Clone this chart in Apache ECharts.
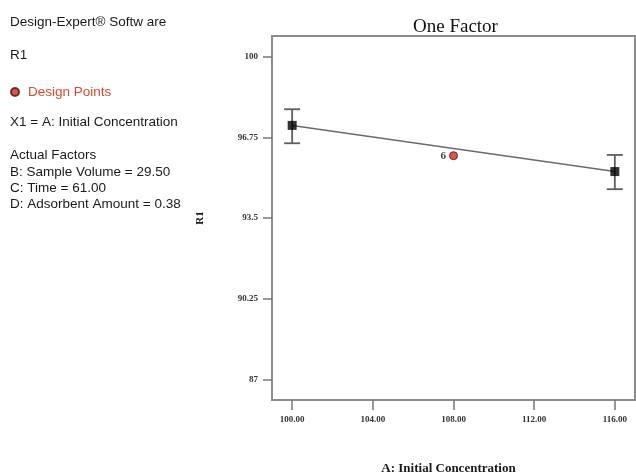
<!DOCTYPE html>
<html>
<head>
<meta charset="utf-8">
<script src="https://cdn.jsdelivr.net/npm/echarts@6/dist/echarts.min.js"></script>
<style>
  html, body { margin: 0; padding: 0; background: #fff; }
  #main { width: 636px; height: 475px; }
</style>
</head>
<body>
<div id="main"></div>
<script>
// factor A levels with predicted R1 and its interval
var factorLevels = [100, 116];
var predicted = [97.23, 95.37];
var lowerCI = [96.51, 94.66];
var upperCI = [97.88, 96.04];

// design point (center run, 6 replicates)
var designX = [108];
var designY = [96.01];
var designCount = ['6'];

var xTicks = [100, 104, 108, 112, 116];
var yTicks = [87, 90.25, 93.5, 96.75, 100];

var infoLines = [
  ['Design-Expert® Softw are', 23],
  ['R1', 56],
  ['X1 = A: Initial Concentration', 123],
  ['Actual Factors', 156],
  ['B: Sample Volume = 29.50', 173],
  ['C: Time = 61.00', 189],
  ['D: Adsorbent Amount = 0.38', 205]
];

var serif = '"Liberation Serif", "DejaVu Serif", serif';
var sans = '"Liberation Sans", Arial, sans-serif';

var chart = echarts.init(document.getElementById('main'), null, { renderer: 'canvas' });

var lineData = factorLevels.map(function (x, i) { return [x, predicted[i]]; });
var barData = factorLevels.map(function (x, i) { return [x, lowerCI[i], upperCI[i]]; });
var pointData = designX.map(function (x, i) { return [x, designY[i], designCount[i]]; });

var option = {
  backgroundColor: '#fff',
  animation: false,
  title: {
    text: 'One Factor',
    left: 408,
    top: 13,
    textStyle: { fontFamily: serif, fontSize: 19, fontWeight: 'normal', color: '#111' }
  },
  legend: {
    data: ['Design Points'],
    left: 5,
    top: 80,
    itemWidth: 12,
    itemHeight: 8,
    selectedMode: false,
    textStyle: { fontFamily: sans, fontSize: 13.5, color: '#e4482f', padding: [2, 0, 0, 2] }
  },
  graphic: infoLines.map(function (l) {
    return {
      type: 'text',
      left: 10,
      top: l[1] - 8,
      style: { text: l[0], font: '13.5px ' + sans, fill: '#1a1a1a' }
    };
  }),
  grid: {
    left: 272, top: 36, right: 1, bottom: 75,
    outerBoundsMode: 'none',
    containLabel: false,
    show: true, borderColor: '#8c8c8c', borderWidth: 2
  },
  xAxis: {
    type: 'value',
    min: 99, max: 117,
    name: 'A: Initial Concentration',
    nameLocation: 'middle',
    nameGap: 62,
    nameTextStyle: { fontFamily: serif, fontSize: 13, fontWeight: 'bold', color: '#1a1a1a', padding: [0, 10, 0, 0] },
    axisLine: { show: false },
    splitLine: { show: false },
    axisTick: { show: true, inside: false, length: 10, customValues: xTicks, lineStyle: { color: '#777', width: 1.5 } },
    axisLabel: {
      customValues: xTicks, margin: 15,
      fontFamily: serif, fontSize: 9, fontWeight: 'bold', color: '#333',
      formatter: function (v) { return v.toFixed(2); }
    }
  },
  yAxis: {
    type: 'value',
    min: 86.17, max: 100.83,
    name: 'R1',
    nameLocation: 'middle',
    nameGap: 66,
    nameTextStyle: { fontFamily: serif, fontSize: 11, fontWeight: 'bold', color: '#1a1a1a' },
    axisLine: { show: false },
    splitLine: { show: false },
    axisTick: { show: true, inside: false, length: 9, customValues: yTicks, lineStyle: { color: '#777', width: 1.5 } },
    axisLabel: {
      customValues: yTicks, margin: 14,
      fontFamily: serif, fontSize: 9, fontWeight: 'bold', color: '#333'
    }
  },
  series: [
    {
      name: 'Prediction',
      type: 'line',
      data: lineData,
      showSymbol: false,
      lineStyle: { color: '#6b6b6b', width: 1.5 },
      z: 2
    },
    {
      name: 'Interval',
      type: 'custom',
      data: barData,
      renderItem: function (params, api) {
        var x = api.value(0);
        var top = api.coord([x, api.value(2)]);
        var bot = api.coord([x, api.value(1)]);
        var half = 8;
        var st = { stroke: '#5e5e5e', lineWidth: 1.8 };
        return {
          type: 'group',
          children: [
            { type: 'line', shape: { x1: top[0], y1: top[1], x2: bot[0], y2: bot[1] }, style: st },
            { type: 'line', shape: { x1: top[0] - half, y1: top[1], x2: top[0] + half, y2: top[1] }, style: st },
            { type: 'line', shape: { x1: bot[0] - half, y1: bot[1], x2: bot[0] + half, y2: bot[1] }, style: st }
          ]
        };
      },
      z: 3
    },
    {
      name: 'Predicted',
      type: 'scatter',
      data: lineData,
      symbol: 'rect',
      symbolSize: 9,
      itemStyle: { color: '#000' },
      z: 4
    },
    {
      name: 'Design Points',
      type: 'scatter',
      data: pointData,
      symbol: 'circle',
      symbolSize: 8,
      itemStyle: { color: '#d8261b', borderColor: '#4a1510', borderWidth: 1 },
      label: {
        show: true,
        position: 'left',
        distance: 3,
        formatter: function (p) { return p.value[2]; },
        fontFamily: serif, fontSize: 11, fontWeight: 'bold', color: '#111'
      },
      z: 5
    }
  ]
};

chart.setOption(option);
</script>
</body>
</html>
